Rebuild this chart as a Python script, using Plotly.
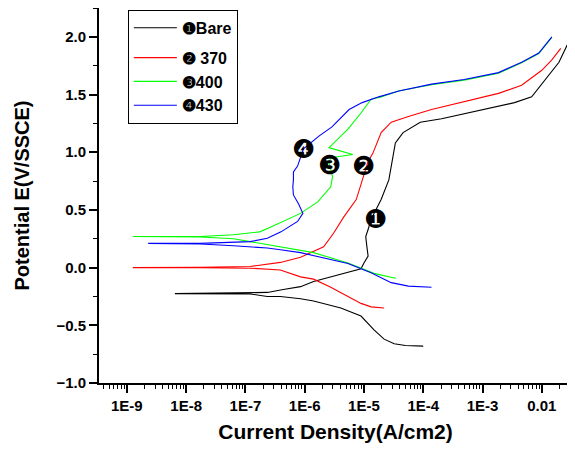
import plotly.graph_objects as go

# ---- data: log10(current density, A/cm2) and potential (V vs SSCE) ----
# Each sample: cathodic branch (from Ecorr outward) and anodic branch (from Ecorr outward)
bare_cat_logi = [-8.19, -6.92, -6.63, -6.41, -6.07, -5.85, -5.39, -5.05, -4.83, -4.66, -4.49, -4.30, -4.00]
bare_cat_e    = [-0.225, -0.228, -0.25, -0.25, -0.27, -0.29, -0.35, -0.42, -0.54, -0.62, -0.66, -0.675, -0.68]
bare_an_logi  = [-8.19, -7.20, -6.92, -6.63, -6.36, -6.07, -5.85, -5.39, -5.05, -5.00, -4.93, -4.95, -4.97,
                 -4.93, -4.88, -4.80, -4.71, -4.58, -4.52, -4.47, -4.34, -4.05, -3.69, -3.24, -2.46, -2.17,
                 -2.00, -1.83, -1.71, -1.58, -1.51]
bare_an_e     = [-0.225, -0.222, -0.218, -0.215, -0.19, -0.165, -0.12, -0.06, -0.01, 0.04, 0.10, 0.18, 0.27,
                 0.33, 0.42, 0.50, 0.59, 0.76, 0.94, 1.08, 1.17, 1.26, 1.29, 1.34, 1.43, 1.48,
                 1.59, 1.70, 1.78, 1.92, 1.99]

s370_cat_logi = [-8.90, -7.76, -6.92, -6.41, -6.07, -5.85, -5.56, -5.27, -5.05, -4.88, -4.66]
s370_cat_e    = [0.0, 0.0, -0.005, -0.02, -0.08, -0.10, -0.17, -0.25, -0.31, -0.34, -0.35]
s370_an_logi  = [-8.90, -7.76, -6.92, -6.41, -6.07, -5.68, -5.51, -5.34, -5.13, -5.05, -4.98, -4.93, -4.85,
                 -4.76, -4.71, -4.54, -4.25, -3.86, -3.31, -2.73, -2.34, -2.00, -1.83, -1.68]
s370_an_e     = [0.0, 0.003, 0.01, 0.045, 0.09, 0.18, 0.30, 0.44, 0.59, 0.72, 0.83, 0.92, 0.99,
                 1.11, 1.17, 1.26, 1.31, 1.37, 1.44, 1.51, 1.58, 1.71, 1.80, 1.90]

s400_cat_logi = [-8.90, -7.76, -7.20, -6.63, -6.07, -5.85, -5.27, -4.83, -4.49, -4.46]
s400_cat_e    = [0.27, 0.265, 0.25, 0.20, 0.15, 0.13, 0.04, -0.05, -0.09, -0.09]
s400_an_logi  = [-8.90, -7.76, -7.20, -6.76, -6.58, -6.36, -6.07, -5.78, -5.56, -5.53, -5.56, -5.59, -5.56,
                 -5.19, -5.59, -5.27, -5.05, -4.88, -4.71, -4.42, -3.86, -3.31, -2.73, -2.34, -2.05, -1.86, -1.83]
s400_an_e     = [0.27, 0.27, 0.285, 0.31, 0.35, 0.40, 0.47, 0.57, 0.70, 0.79, 0.85, 0.91, 0.953,
                 0.98, 1.04, 1.20, 1.34, 1.46, 1.48, 1.53, 1.585, 1.625, 1.685, 1.775, 1.855, 1.975, 1.995]

s430_cat_logi = [-8.64, -7.76, -7.20, -6.63, -6.41, -6.07, -5.85, -5.27, -4.88, -4.54, -4.25, -3.86]
s430_cat_e    = [0.21, 0.205, 0.19, 0.17, 0.155, 0.13, 0.10, 0.035, -0.045, -0.13, -0.16, -0.17]
s430_an_logi  = [-8.64, -7.76, -6.92, -6.63, -6.40, -6.22, -6.12, -6.03, -6.10, -6.19, -6.20, -6.19, -6.19,
                 -6.12, -6.07, -6.02, -5.76, -5.54, -5.25, -5.03, -4.75, -4.41, -3.86, -3.31, -2.73, -2.34,
                 -2.05, -1.86, -1.83]
s430_an_e     = [0.21, 0.21, 0.225, 0.255, 0.31, 0.37, 0.40, 0.47, 0.55, 0.63, 0.70, 0.76, 0.83,
                 0.88, 0.95, 1.03, 1.14, 1.22, 1.37, 1.43, 1.48, 1.53, 1.59, 1.63, 1.69, 1.78,
                 1.86, 1.98, 2.00]

series_names  = ["❶Bare", "❷ 370", "❸400", "❹430"]
series_colors = ["#000000", "#ff0000", "#00ff00", "#0000ff"]

# circled labels placed next to curves
label_text = ["❶", "❷", "❸", "❹"]
label_logi = [-4.80, -5.00, -5.58, -6.02]
label_e    = [0.42, 0.88, 0.89, 1.03]

x_tickvals = [1e-9, 1e-8, 1e-7, 1e-6, 1e-5, 1e-4, 1e-3, 1e-2]
x_ticktext = ["1E-9", "1E-8", "1E-7", "1E-6", "1E-5", "1E-4", "1E-3", "0.01"]

FONT = "Liberation Sans, Arial, sans-serif"

branches = [
    (bare_cat_logi, bare_cat_e, bare_an_logi, bare_an_e),
    (s370_cat_logi, s370_cat_e, s370_an_logi, s370_an_e),
    (s400_cat_logi, s400_cat_e, s400_an_logi, s400_an_e),
    (s430_cat_logi, s430_cat_e, s430_an_logi, s430_an_e),
]

fig = go.Figure()
for i, (cl, ce, al, ae) in enumerate(branches):
    logi = list(reversed(cl)) + al[1:]
    e = list(reversed(ce)) + ae[1:]
    fig.add_trace(go.Scatter(
        x=[10 ** v for v in logi], y=e, mode="lines",
        name=series_names[i],
        line=dict(color=series_colors[i], width=1.1),
        legendgroup="a" if i == 0 else "b",
    ))

for t, lx, ly in zip(label_text, label_logi, label_e):
    fig.add_annotation(x=lx, y=ly, xref="x", yref="y", text=t, showarrow=False,
                       font=dict(family="DejaVu Sans", size=26, color="black"))

minor_vals = [m * 10 ** d for d in range(-10, -1) for m in range(2, 10)]

fig.update_layout(
    width=575, height=450,
    margin=dict(l=91, r=11, t=0, b=75),
    paper_bgcolor="white", plot_bgcolor="white",
    font=dict(family=FONT, color="black"),
    showlegend=True,
    legend=dict(
        x=0.061, y=0.995, xanchor="left", yanchor="top",
        bordercolor="black", borderwidth=1, bgcolor="white",
        font=dict(family=FONT, size=16, weight="bold", color="black"),
        tracegroupgap=6, itemwidth=43,
    ),
    xaxis=dict(
        type="log", range=[-9.47, -1.49], automargin=False,
        tickvals=x_tickvals, ticktext=x_ticktext,
        ticks="outside", ticklen=8, tickwidth=1.5, tickcolor="black",
        minor=dict(tickvals=minor_vals, ticks="outside", ticklen=4, tickwidth=1, tickcolor="black"),
        showline=True, linecolor="black", linewidth=2,
        showgrid=False, zeroline=False,
        tickfont=dict(family=FONT, size=15, weight="bold"),
        title=dict(text="Current Density(A/cm2)", standoff=11,
                   font=dict(family=FONT, size=21, weight="bold")),
    ),
    yaxis=dict(
        range=[-1.0, 2.25], tick0=0, dtick=0.5, tickformat=".1f", automargin=False,
        ticks="outside", ticklen=8, tickwidth=1.5, tickcolor="black",
        minor=dict(dtick=0.25, ticks="outside", ticklen=4, tickwidth=1, tickcolor="black"),
        showline=True, linecolor="black", linewidth=2,
        showgrid=False, zeroline=False,
        tickfont=dict(family=FONT, size=15, weight="bold"),
        title=dict(text="Potential E(V/SSCE)", standoff=21,
                   font=dict(family=FONT, size=20, weight="bold")),
    ),
)

fig.write_html("out.html")
